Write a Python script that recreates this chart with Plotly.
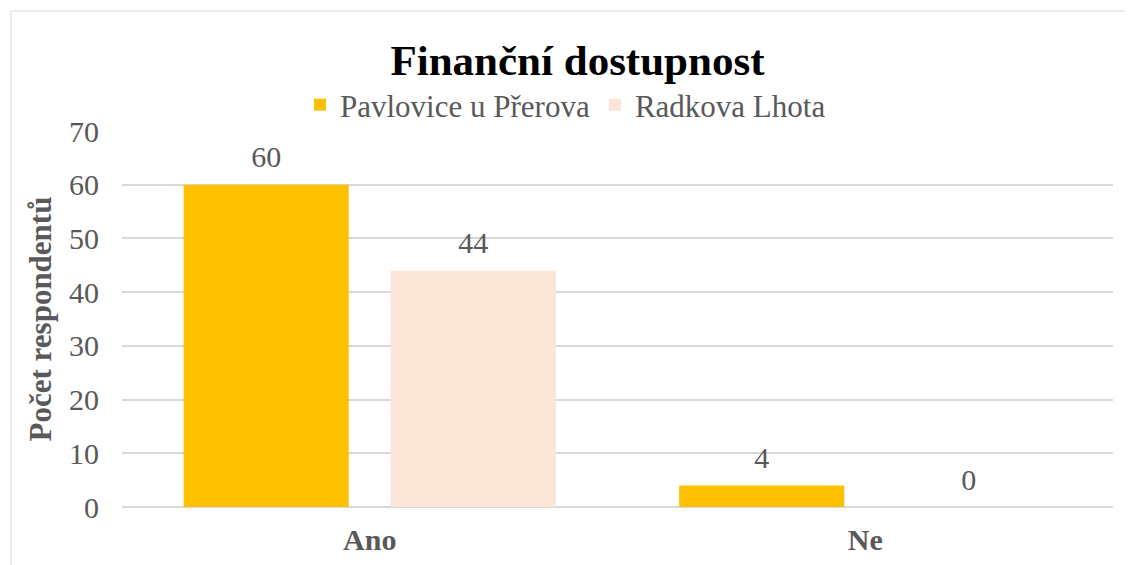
import plotly.graph_objects as go

categories = ["Ano", "Ne"]
series_names = ["Pavlovice u Přerova", "Radkova Lhota"]
pavlovice = [60, 4]
radkova = [44, 0]
colors = ["#FFC000", "#FBE5D6"]
y_ticks = [0, 10, 20, 30, 40, 50, 60, 70]

font_family = "Liberation Serif, Times New Roman, serif"
gray = "#595959"
FS = 30

fig = go.Figure()
for i, (name, vals, col) in enumerate(zip(series_names, [pavlovice, radkova], colors)):
    fig.add_trace(go.Bar(
        x=categories, y=vals, name=name, offsetgroup=str(i),
        marker=dict(color=col, line=dict(width=0)),
        hoverinfo="x+y+name",
    ))
for i, vals in enumerate([pavlovice, radkova]):
    # value labels, grouped like the bars
    fig.add_trace(go.Scatter(
        x=categories, y=vals, offsetgroup=str(i), mode="markers+text",
        marker=dict(size=14, opacity=0), showlegend=False, hoverinfo="skip",
        text=[str(v) for v in vals], textposition="top center",
        textfont=dict(family=font_family, size=FS, color=gray),
        cliponaxis=False,
    ))

# page has 8px body margin, so figure is placed at (8, 8)
W, H = 1125, 557
L, R, T, B = 114, 20, 123, 58
pw, ph = W - L - R, H - T - B

fig.update_layout(
    width=W, height=H,
    margin=dict(l=L, r=R, t=T, b=B),
    paper_bgcolor="white", plot_bgcolor="white",
    barmode="group", bargap=0.164, bargroupgap=0.203,
    scattermode="group", scattergap=0.164,
    title=dict(text="<b>Finanční dostupnost</b>", x=(577.5 - 8) / W, xanchor="center",
               y=1 - 52 / H, yanchor="middle",
               font=dict(family=font_family, size=43, color="black")),
    legend=dict(orientation="h", x=0.5 - 52 / pw, xanchor="center",
                y=1 + (T - 97) / ph, yanchor="middle",
                font=dict(family=font_family, size=31, color=gray),
                itemwidth=30, traceorder="normal"),
    xaxis=dict(showgrid=False, showline=False, ticks="", automargin=False,
               tickfont=dict(family=font_family, size=FS, color=gray),
               tickprefix="<b>", ticksuffix="</b>", ticklabelstandoff=12),
    yaxis=dict(range=[0, 70], tickvals=y_ticks, showgrid=True, automargin=False,
               gridcolor="#D9D9D9", gridwidth=1.5, zeroline=True,
               zerolinecolor="#D9D9D9", zerolinewidth=2, showline=False,
               tickfont=dict(family=font_family, size=FS, color=gray),
               ticklabelstandoff=22,
               title=dict(text="<b>Počet respondentů</b>", standoff=8,
                          font=dict(family=font_family, size=31, color=gray))),
    shapes=[dict(type="rect", xref="paper", yref="paper",
                 x0=(3 - L) / pw, x1=(W + 5 - L) / pw,
                 y0=-(B + 5) / ph, y1=1 + (T - 3) / ph,
                 line=dict(color="#D9D9D9", width=1), layer="below")],
)

fig.write_html("out.html")
